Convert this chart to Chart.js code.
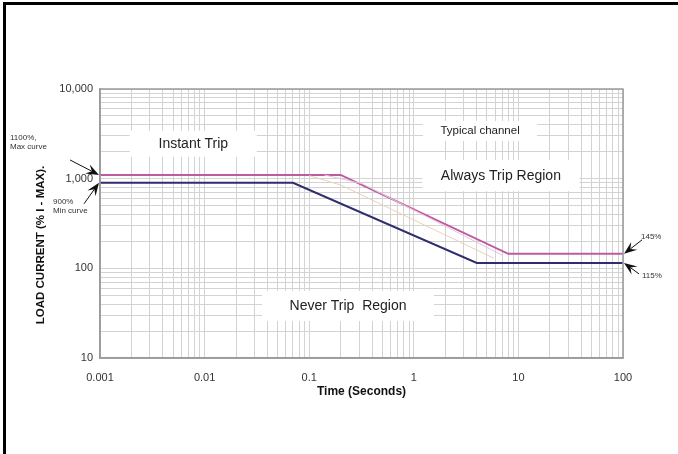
<!DOCTYPE html>
<html>
<head>
<meta charset="utf-8">
<script src="https://cdn.jsdelivr.net/npm/chart.js@4/dist/chart.umd.min.js"></script>
<style>
    html, body { margin: 0; padding: 0; background: #fff; }
</style>
</head>
<body>
<canvas id="tripChart" width="678" height="454"></canvas>
<script>
// Trip curve data: time in seconds, load current in % of I-MAX
const maxCurveTime = [0.001, 0.2, 8, 100];
const maxCurveLoad = [1100, 1100, 145, 145];
const minCurveTime = [0.001, 0.07, 4, 100];
const minCurveLoad = [900, 900, 115, 115];
// faint "typical channel" curves
const typicalUpperTime = [0.14, 0.32, 7];
const typicalUpperLoad = [1100, 880, 140];
const typicalLowerTime = [0.1, 0.2, 5.8];
const typicalLowerLoad = [1080, 850, 130];

// axis ticks
const timeTicks = [0.001, 0.01, 0.1, 1, 10, 100];
const timeLabels = ['0.001', '0.01', '0.1', '1', '10', '100'];
const loadTicks = [10, 100, 1000, 10000];
const loadLabels = ['10', '100', '1,000', '10,000'];

const FONT = '"Liberation Sans", Arial, sans-serif';

const toPoints = (xs, ys) => xs.map((x, i) => ({ x: x, y: ys[i] }));

// 1..9 per decade for the log grid
const logGrid = decades => {
    const vals = [];
    decades.slice(0, -1).forEach(d => {
        for (let k = 1; k <= 9; k++) vals.push(d * k);
    });
    vals.push(decades[decades.length - 1]);
    return vals.map(v => ({ value: v }));
};

// text notes placed in data coordinates
const regionNotes = [
    { text: 'Instant Trip', t: 0.0078, load: 2450, size: 14, boxW: 127, boxH: 26 },
    { text: 'Typical channel', t: 4.3, load: 3400, size: 11.5, boxW: 114, boxH: 20 },
    { text: 'Always Trip Region', t: 6.8, load: 1080, size: 14, boxW: 157, boxH: 31 },
    { text: 'Never Trip  Region', t: 0.235, load: 38, size: 14, boxW: 172, boxH: 30 }
];

function drawArrow(ctx, x0, y0, x1, y1) {
    const a = Math.atan2(y1 - y0, x1 - x0);
    const c = Math.cos(a), s = Math.sin(a);
    ctx.beginPath();
    ctx.moveTo(x0, y0);
    ctx.lineTo(x1 - 8 * c, y1 - 8 * s);
    ctx.stroke();
    ctx.beginPath();
    ctx.moveTo(x1, y1);
    ctx.lineTo(x1 - 13 * c + 5 * s, y1 - 13 * s - 5 * c);
    ctx.lineTo(x1 - 8 * c, y1 - 8 * s);
    ctx.lineTo(x1 - 13 * c - 5 * s, y1 - 13 * s + 5 * c);
    ctx.closePath();
    ctx.fill();
}

const notesPlugin = {
    id: 'tripNotes',
    beforeDatasetsDraw(chart) {
        const { ctx, scales: { x, y } } = chart;
        ctx.save();
        regionNotes.forEach(n => {
            const cx = x.getPixelForValue(n.t);
            const cy = y.getPixelForValue(n.load);
            ctx.fillStyle = '#fff';
            ctx.fillRect(cx - n.boxW / 2, cy - n.boxH / 2, n.boxW, n.boxH);
            ctx.fillStyle = '#222';
            ctx.font = n.size + 'px ' + FONT;
            ctx.textAlign = 'center';
            ctx.textBaseline = 'middle';
            ctx.fillText(n.text, cx, cy);
        });
        ctx.restore();
    },
    afterDraw(chart) {
        const { ctx, chartArea: area, scales: { x, y } } = chart;
        ctx.save();

        // plot frame
        ctx.strokeStyle = '#9a9a9a';
        ctx.lineWidth = 1.5;
        ctx.strokeRect(area.left, area.top, area.right - area.left, area.bottom - area.top);

        // y axis title
        ctx.fillStyle = '#111';
        ctx.font = 'bold 11.5px ' + FONT;
        ctx.textAlign = 'center';
        ctx.textBaseline = 'middle';
        ctx.translate(41, 245);
        ctx.rotate(-Math.PI / 2);
        ctx.fillText('LOAD CURRENT (% I - MAX).', 0, 0);
        ctx.setTransform(1, 0, 0, 1, 0, 0);

        // curve callouts
        ctx.fillStyle = '#111';
        ctx.strokeStyle = '#111';
        ctx.lineWidth = 1;
        const yMax = y.getPixelForValue(maxCurveLoad[0]);
        const yMin = y.getPixelForValue(minCurveLoad[0]);
        const yMaxEnd = y.getPixelForValue(maxCurveLoad[maxCurveLoad.length - 1]);
        const yMinEnd = y.getPixelForValue(minCurveLoad[minCurveLoad.length - 1]);
        drawArrow(ctx, area.left - 30, yMax - 15, area.left - 1, yMax);
        drawArrow(ctx, area.left - 16, yMin + 21, area.left - 1, yMin);
        drawArrow(ctx, area.right + 19, yMaxEnd - 14, area.right + 1, yMaxEnd);
        drawArrow(ctx, area.right + 16, yMinEnd + 11, area.right + 1, yMinEnd);

        ctx.font = '8px ' + FONT;
        ctx.fillStyle = '#333';
        ctx.textAlign = 'left';
        ctx.textBaseline = 'middle';
        ctx.fillText('1100%,', 10, 138);
        ctx.fillText('Max curve', 10, 147);
        ctx.fillText('900%', 53, 202);
        ctx.fillText('Min curve', 53, 211);
        ctx.fillText('145%', 641, 237);
        ctx.fillText('115%', 642, 276);

        // outer frame of the figure
        ctx.fillStyle = '#000';
        ctx.fillRect(3, 2, 3, 452);
        ctx.fillRect(3, 2, 675, 3);
        ctx.restore();
    }
};

const ctx = document.getElementById('tripChart').getContext('2d');
new Chart(ctx, {
    type: 'line',
    data: {
        datasets: [
            {
                label: 'Typical (upper)',
                data: toPoints(typicalUpperTime, typicalUpperLoad),
                borderColor: '#e9c3dc',
                borderWidth: 1
            },
            {
                label: 'Typical (lower)',
                data: toPoints(typicalLowerTime, typicalLowerLoad),
                borderColor: '#ead1b8',
                borderWidth: 1
            },
            {
                label: 'Max curve',
                data: toPoints(maxCurveTime, maxCurveLoad),
                borderColor: '#bd5aa2',
                borderWidth: 2
            },
            {
                label: 'Min curve',
                data: toPoints(minCurveTime, minCurveLoad),
                borderColor: '#2f2d6e',
                borderWidth: 2
            }
        ]
    },
    options: {
        responsive: false,
        animation: false,
        devicePixelRatio: 1,
        elements: { point: { radius: 0 }, line: { tension: 0 } },
        layout: { padding: { top: 89, right: 55, left: 0, bottom: 0 } },
        plugins: { legend: { display: false }, tooltip: { enabled: false } },
        scales: {
            x: {
                type: 'logarithmic',
                min: 0.001,
                max: 100,
                afterBuildTicks: s => { s.ticks = logGrid(timeTicks); },
                afterFit: s => { s.height = 96; },
                grid: { color: '#d3d3d3', drawTicks: false },
                border: { color: '#9a9a9a', width: 1.5 },
                ticks: {
                    autoSkip: false,
                    maxRotation: 0,
                    padding: 13,
                    color: '#333',
                    font: { family: FONT, size: 11 },
                    callback: v => {
                        const i = timeTicks.indexOf(v);
                        return i >= 0 ? timeLabels[i] : '';
                    }
                },
                title: {
                    display: true,
                    text: 'Time (Seconds)',
                    color: '#111',
                    font: { family: FONT, size: 12, weight: 'bold' },
                    padding: { top: 0, bottom: 55 }
                }
            },
            y: {
                type: 'logarithmic',
                min: 10,
                max: 10000,
                afterBuildTicks: s => { s.ticks = logGrid(loadTicks); },
                afterFit: s => { s.width = 100; },
                grid: { color: '#d3d3d3', drawTicks: false },
                border: { color: '#9a9a9a', width: 1.5 },
                ticks: {
                    autoSkip: false,
                    padding: 7,
                    color: '#333',
                    font: { family: FONT, size: 11 },
                    callback: v => {
                        const i = loadTicks.indexOf(v);
                        return i >= 0 ? loadLabels[i] : '';
                    }
                }
            }
        }
    },
    plugins: [notesPlugin]
});
</script>
</body>
</html>
